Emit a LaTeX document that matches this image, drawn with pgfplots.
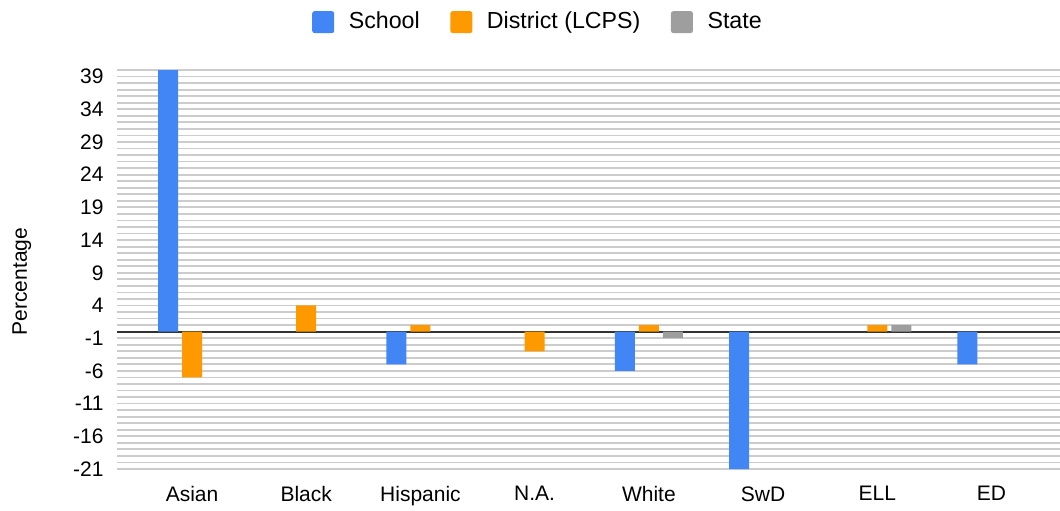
\documentclass[border=0pt]{standalone}
\usepackage{fontspec}
\setmainfont{Liberation Sans}
\usepackage{pgfplots}
\pgfplotsset{compat=1.18}
\definecolor{cSchool}{HTML}{4285F4}
\definecolor{cDistrict}{HTML}{FF9900}
\definecolor{cState}{HTML}{9E9E9E}
\definecolor{cGrid}{HTML}{CCCCCC}
\definecolor{cZero}{HTML}{333333}
\begin{document}
\fontsize{10.5}{12.6}\selectfont
\begin{tikzpicture}
\begin{axis}[
  at={(0,0)}, anchor=south west,
  scale only axis,
  width=471.5pt, height=199.5pt,
  xmin=-0.657, xmax=7.6,
  ymin=-21, ymax=40,
  axis line style={draw=none},
  major tick length=0pt, minor tick length=0pt,
  xtick={0,1,2,3,4,5,6,7},
  xticklabels={Asian,Black,Hispanic,N.A.,White,SwD,ELL,ED},
  xticklabel style={yshift=-5pt, font=\fontsize{10.5}{12.6}\selectfont},
  ytick={-21,-16,-11,-6,-1,4,9,14,19,24,29,34,39},
  yticklabels={-21,-16,-11,-6,-1,4,9,14,19,24,29,34,39},
  yticklabel style={xshift=-3pt, font=\fontsize{10.5}{12.6}\selectfont},
  minor ytick={-20,-19,-18,-17,-15,-14,-13,-12,-10,-9,-8,-7,-5,-4,-3,-2,0,1,2,3,5,6,7,8,10,11,12,13,15,16,17,18,20,21,22,23,25,26,27,28,30,31,32,33,35,36,37,38,40},
  ymajorgrids, yminorgrids,
  major grid style={cGrid, line width=0.9pt},
  minor grid style={cGrid, line width=0.9pt},
  extra y ticks={0},
  extra y tick labels={},
  extra y tick style={grid=major, major grid style={cZero, line width=0.9pt}},
  ylabel={Percentage},
  ylabel style={at={(axis description cs:-0.101,0.47)}, anchor=center, rotate=0, font=\fontsize{10.5}{12.6}\selectfont},
  ybar, bar width=10pt,
  legend style={at={(axis description cs:0.4475,1.12)}, anchor=center,
    legend columns=3, draw=none, fill=none,
    font=\fontsize{11.6}{13.8}\selectfont,
    /tikz/every odd column/.append style={column sep=5.3pt},
    /tikz/every even column/.append style={column sep=13.3pt}},
  legend image code/.code={\fill[rounded corners=1.2pt] (0pt,-5.5pt) rectangle (11pt,5.5pt);},
]
\addplot[fill=cSchool, draw=none, bar shift=-12pt] coordinates {(0,40) (2,-5) (4,-6) (5,-21) (7,-5)};
\addplot[fill=cDistrict, draw=none, bar shift=0pt] coordinates {(0,-7) (1,4) (2,1) (3,-3) (4,1) (6,1)};
\addplot[fill=cState, draw=none, bar shift=12pt] coordinates {(4,-1) (6,1)};
\legend{School,District (LCPS),State}
\end{axis}
\pgfresetboundingbox
\path[use as bounding box] (-58.5pt,-20.5pt) rectangle (471.5pt,234.5pt);
\end{tikzpicture}
\end{document}
